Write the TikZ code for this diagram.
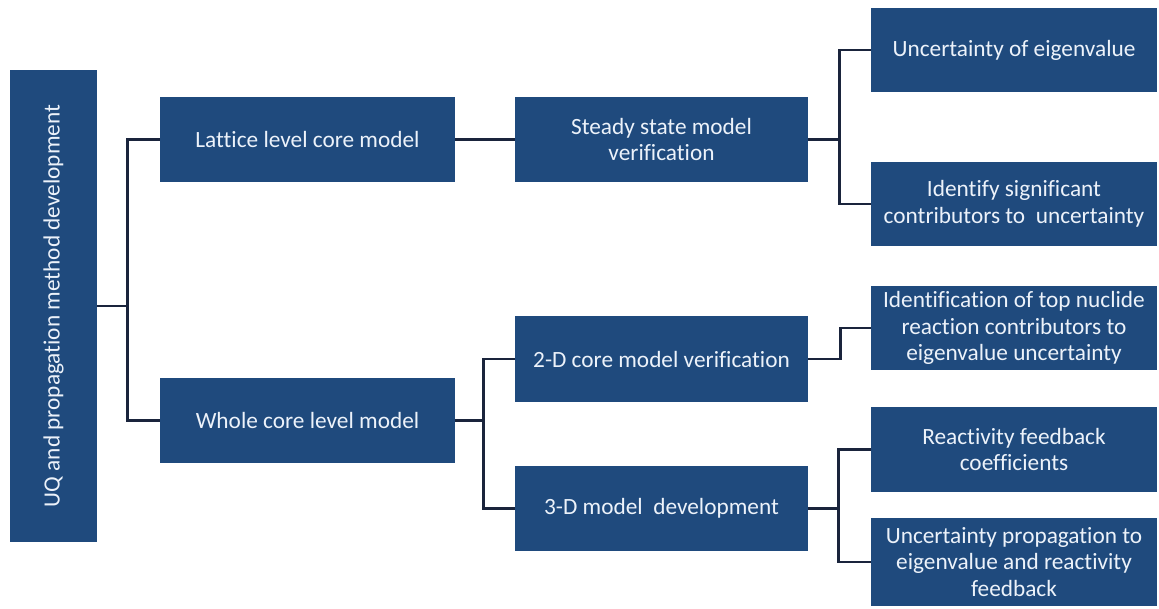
\documentclass[tikz,border=0pt]{standalone}
\usepackage{fontspec}
\setmainfont{Carlito}[Ligatures=NoCommon]
\definecolor{boxblue}{RGB}{31,74,125}
\definecolor{boxtext}{RGB}{236,242,250}
\definecolor{linkcol}{RGB}{26,36,60}
\begin{document}
\begin{tikzpicture}[x=1pt,y=-1pt,
  box/.style={fill=boxblue, text=boxtext, align=center, inner sep=0pt,
    font=\fontsize{23.3}{26.5}\selectfont},
  link/.style={draw=linkcol, line width=2.9pt}]
\useasboundingbox (0,0) rectangle (1159,608);
\fill[white] (0,0) rectangle (1159,608);

% root of the tree
\node[box, minimum width=87, minimum height=472] (root) at (53.5,306)
  {\rotatebox{90}{UQ and propagation method development}};

% second level
\node[box, minimum width=295, minimum height=85] (lattice) at (307.5,139.5) {Lattice level core model};
\node[box, minimum width=295, minimum height=85] (whole) at (307.5,420.5) {Whole core level model};

% third level
\node[box, minimum width=293, minimum height=85] (steady) at (661.5,139.5) {Steady state model\\verification};
\node[box, minimum width=293, minimum height=86] (twod) at (661.5,359) {2-D core model verification};
\node[box, minimum width=293, minimum height=85] (threed) at (661.5,508.5) {3-D model\ \ development};

% outcomes
\node[box, minimum width=286, minimum height=84] (ueig) at (1014,50) {Uncertainty of eigenvalue};
\node[box, minimum width=286, minimum height=84] (ident) at (1014,204) {Identify significant\\contributors to\ \ uncertainty};
\node[box, minimum width=286, minimum height=84] (topnuc) at (1014,328) {Identification of top nuclide\\reaction contributors to\\eigenvalue uncertainty};
\node[box, minimum width=286, minimum height=85] (react) at (1014,449.5) {Reactivity feedback\\coefficients};
\node[box, minimum width=286, minimum height=88] (prop) at (1014,562) {Uncertainty propagation to\\eigenvalue and reactivity\\feedback};

% connectors
\draw[link] (root.east) -- ++(30,0) coordinate (j1);
\draw[link] (lattice.west) -| (j1) |- (whole.west);

\draw[link] (lattice.east) -- (steady.west);

\draw[link] (steady.east) -- ++(31,0) coordinate (j2);
\draw[link] (ueig.west) -| (j2) |- (ident.west);

\draw[link] (whole.east) -- ++(28,0) coordinate (j3);
\draw[link] (twod.west) -| (j3) |- (threed.west);

\draw[link] (twod.east) -- ++(32,0) |- (topnuc.west);

\draw[link] (threed.east) -- ++(30,0) coordinate (j4);
\draw[link] (react.west) -| (j4) |- (prop.west);
\end{tikzpicture}
\end{document}
